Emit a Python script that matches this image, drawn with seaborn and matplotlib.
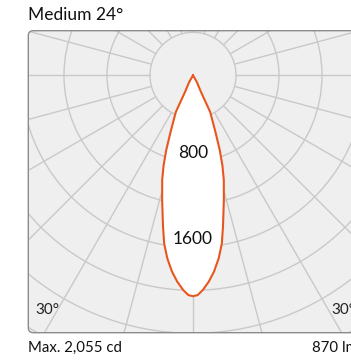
import numpy as np
import seaborn as sns
import matplotlib.pyplot as plt
from matplotlib.patches import FancyBboxPatch, Circle

# Luminous intensity distribution (half curve, symmetric),
# listed in order along the curve from the bottom (0°) up to the tip
angles_deg = [0, 1.2, 2.6, 4.35, 6.1, 8.0, 9.7, 11.2, 13.9, 16.4, 18.1, 19.7,
              21.6, 25.1, 25.6, 29.6, 33]
intensity_cd = [2055, 2045, 2000, 1926, 1837, 1719, 1590, 1436, 1195, 1015, 880,
                738, 567, 377, 172, 72, 0]

ring_values = [400, 800, 1200, 1600, 2000, 2400, 2800]
ring_labels = ["800", "1600"]
ring_label_values = [800, 1600]
spoke_step = 15

title = "Medium 24°"
max_text = "Max. 2,055 cd"
flux_text = "870 lm"
angle_label = "30°"

# Mirror the half curve to get the full symmetric curve
ang = np.array(angles_deg, dtype=float)
val = np.array(intensity_cd, dtype=float)
full_ang = np.concatenate([-ang[::-1], ang[1:]])
full_val = np.concatenate([val[::-1], val[1:]])
theta = np.radians(full_ang)
cx = full_val * np.sin(theta)
cy = -full_val * np.cos(theta)

sns.set_theme(style="white")
plt.rcParams['font.family'] = ['Lato', 'DejaVu Sans']

W, H = 351, 362
fig = plt.figure(figsize=(W / 100, H / 100), dpi=100)

# frame in pixels, polar centre at (193, 75.3), 43 px per 400 cd
left_px, right_px, top_px, bottom_px = 28.3, 357.7, 30.7, 332.7
ctr_x, ctr_y = 193.0, 75.3
k = 43.0 / 400.0

ax = fig.add_axes([left_px / W, 1 - bottom_px / H,
                   (right_px - left_px) / W, (bottom_px - top_px) / H])
ax.set_xlim((left_px - ctr_x) / k, (right_px - ctr_x) / k)
ax.set_ylim(-(bottom_px - ctr_y) / k, (ctr_y - top_px) / k)
ax.axis('off')

x0, x1 = ax.get_xlim()
y0, y1 = ax.get_ylim()
rnd = 5 / k
frame = FancyBboxPatch((x0, y0), x1 - x0, y1 - y0,
                       boxstyle=f"round,pad=0,rounding_size={rnd}",
                       facecolor="#efefef", edgecolor="none", zorder=0,
                       clip_on=False)
ax.add_patch(frame)

grid_col = "#c9c9c9"
for r in ring_values:
    c = Circle((0, 0), r, fill=False, edgecolor=grid_col, lw=1.0, zorder=1)
    ax.add_patch(c)
    c.set_clip_path(frame)
for a in range(0, 360, spoke_step):
    t = np.radians(a)
    rr = np.array([ring_values[0], 3200])
    ln, = ax.plot(rr * np.sin(t), -rr * np.cos(t), color=grid_col, lw=1.0, zorder=1)
    ln.set_clip_path(frame)

ax.fill(cx, cy, color="white", zorder=2)
sns.lineplot(x=cx, y=cy, sort=False, color="#e8551e", lw=1.5, ax=ax, zorder=3,
             estimator=None)
ax.lines[-1].set_solid_joinstyle('round')

for lab, v in zip(ring_labels, ring_label_values):
    ax.text(0, -v + 8 / k, lab, ha="center", va="center", fontsize=12.5,
            color="#111111", zorder=4)

ax.text((35 - ctr_x) / k, -(310 - ctr_y) / k, angle_label, ha="left", va="center",
        fontsize=11, color="#222222", zorder=4)
ax.text((331.7 - ctr_x) / k, -(310 - ctr_y) / k, angle_label, ha="left", va="center",
        fontsize=11, color="#222222", zorder=4, clip_on=False)

edge = FancyBboxPatch((x0, y0), x1 - x0, y1 - y0,
                      boxstyle=f"round,pad=0,rounding_size={rnd}",
                      facecolor="none", edgecolor="#8c8c8c", lw=1.0, zorder=5,
                      clip_on=False)
ax.add_patch(edge)

fig.text(left_px / W, 1 - 15 / H, title, ha="left", va="center", fontsize=12.5,
         color="#111111")
fig.text(left_px / W, 1 - 348 / H, max_text, ha="left", va="center", fontsize=10.8,
         color="#111111")
fig.text(right_px / W, 1 - 348 / H, flux_text, ha="right", va="center", fontsize=10.8,
         color="#111111")

fig.savefig("out.png", dpi=100, facecolor="white")
